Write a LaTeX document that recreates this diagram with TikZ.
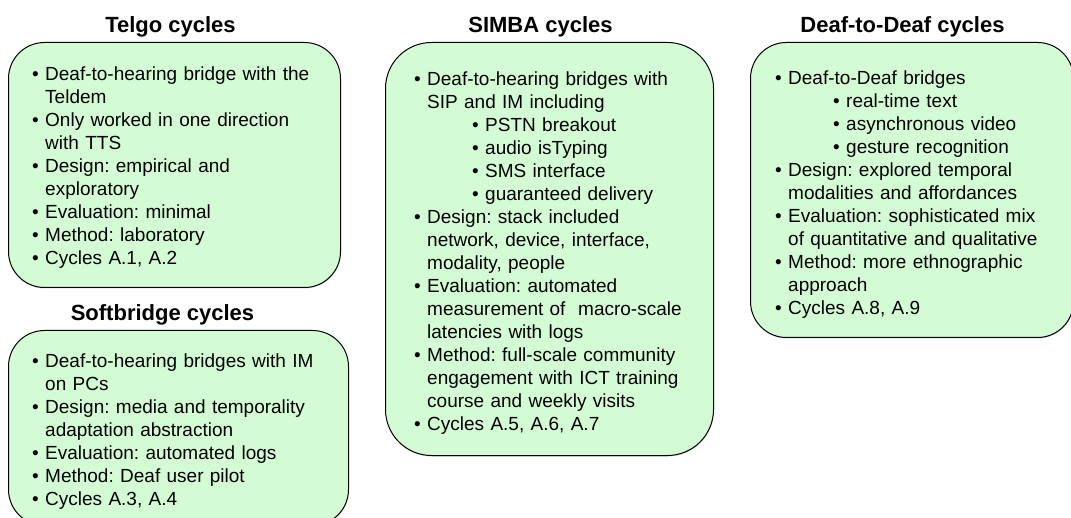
\documentclass[tikz,border=0pt]{standalone}
\usepackage{fontspec}
\setmainfont{Liberation Sans}
\usepackage{tikz}
\usetikzlibrary{positioning, shadows}
\definecolor{boxgreen}{RGB}{212,252,212}
\frenchspacing
\newcommand{\bitem}[1]{\par\noindent\hangindent=13pt\hangafter=1\makebox[13pt][l]{\textbullet}#1}
\newcommand{\sitem}[1]{\par\noindent\hspace*{58pt}\makebox[13pt][l]{\textbullet}#1}

\begin{document}
\begin{tikzpicture}[x=1pt,y=-1pt,
 cycletitle/.style={font=\fontsize{22}{26}\selectfont\bfseries,anchor=base,inner sep=0pt},
 cyclelist/.style={font=\fontsize{19}{23}\selectfont,anchor=north west,inner sep=0pt,
   text width=300pt,align=left}]
 \tikzstyle{cyclebox}=[draw=black,line width=1pt,fill=boxgreen,anchor=north west,inner sep=0pt,
   drop shadow={shadow xshift=0.4pt,shadow yshift=-1pt,opacity=0.35}]

 \useasboundingbox (0,0) rectangle (1071,518);

 % Telgo
 \node[cyclebox,minimum width=332pt,minimum height=245pt,rounded corners=36pt] (T) at (8,42) {};
 \node[cycletitle] (T0) at ([shift={(-4pt,9pt)}]T.north) {Telgo cycles};
 \node[cyclelist] (T1) at ([shift={(24pt,-15pt)}]T.north west) {%
  \bitem{Deaf-to-hearing bridge with the\newline Teldem}
  \bitem{Only worked in one direction\newline with TTS}
  \bitem{Design: empirical and\newline exploratory}
  \bitem{Evaluation: minimal}
  \bitem{Method: laboratory}
  \bitem{Cycles A.1, A.2}};

 % Softbridge
 \node[cyclebox,minimum width=340pt,minimum height=195pt,rounded corners=36pt] (S) at (8,330) {};
 \node[cycletitle] (S0) at ([shift={(-16pt,9pt)}]S.north) {Softbridge cycles};
 \node[cyclelist] (S1) at ([shift={(24pt,-14pt)}]S.north west) {%
  \bitem{Deaf-to-hearing bridges with IM\newline on PCs}
  \bitem{Design: media and temporality\newline adaptation abstraction}
  \bitem{Evaluation: automated logs}
  \bitem{Method: Deaf user pilot}
  \bitem{Cycles A.3, A.4}};

 % SIMBA
 \node[cyclebox,minimum width=328pt,minimum height=413pt,rounded corners=46pt] (M) at (385,42) {};
 \node[cycletitle] (M0) at ([shift={(-9pt,9pt)}]M.north) {SIMBA cycles};
 \node[cyclelist] (M1) at ([shift={(29pt,-20pt)}]M.north west) {%
  \bitem{Deaf-to-hearing bridges with\newline SIP and IM including}
  \sitem{PSTN breakout}
  \sitem{audio isTyping}
  \sitem{SMS interface}
  \sitem{guaranteed delivery}
  \bitem{Design: stack included\newline network, device, interface,\newline modality, people}
  \bitem{Evaluation: automated\newline measurement of\ \ macro-scale\newline latencies with logs}
  \bitem{Method: full-scale community\newline engagement with ICT training\newline course and weekly visits}
  \bitem{Cycles A.5, A.6, A.7}};

 % Deaf-to-Deaf
 \node[cyclebox,minimum width=323pt,minimum height=295pt,rounded corners=36pt] (D) at (750,42) {};
 \node[cycletitle] (D0) at ([shift={(-9.5pt,9pt)}]D.north) {Deaf-to-Deaf cycles};
 \node[cyclelist] (D1) at ([shift={(25pt,-19pt)}]D.north west) {%
  \bitem{Deaf-to-Deaf bridges}
  \sitem{real-time text}
  \sitem{asynchronous video}
  \sitem{gesture recognition}
  \bitem{Design: explored temporal\newline modalities and affordances}
  \bitem{Evaluation: sophisticated mix\newline of quantitative and qualitative}
  \bitem{Method: more ethnographic\newline approach}
  \bitem{Cycles A.8, A.9}};
\end{tikzpicture}
\end{document}
